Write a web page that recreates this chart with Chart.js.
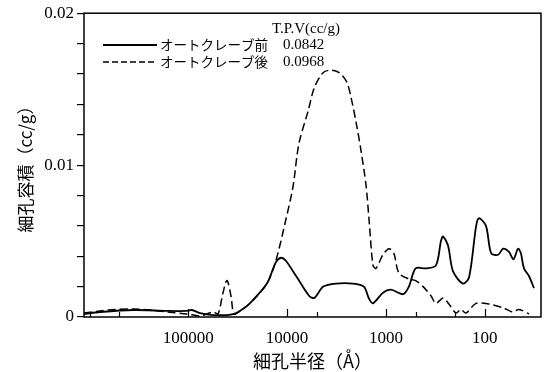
<!DOCTYPE html>
<html>
<head>
<meta charset="utf-8">
<script src="https://cdn.jsdelivr.net/npm/chart.js@4.4.1/dist/chart.umd.min.js"></script>
<style>
  html, body { margin: 0; padding: 0; background: #fff; }
  #wrap { width: 552px; height: 372px; }
</style>
</head>
<body>
<div id="wrap"><canvas id="myChart"></canvas></div>
<script>
// 細孔半径 (Å) / 細孔容積 (cc/g)
const beforeRadius = [1140000, 780000, 360000, 164000, 103000, 92000, 76000, 56000, 41000, 34500, 30000, 23700, 16000, 13000, 11500, 10300, 8100, 6000, 5300, 4300, 3200, 2150, 1670, 1480, 1350, 1070, 890, 670, 585, 500, 393, 311, 277, 264, 235, 209, 166, 144, 122, 114, 97, 86, 73, 65, 57, 51, 46, 43, 40, 35.6, 31.7];
const beforeVolume = [0.0002, 0.00033, 0.00046, 0.0004, 0.0004, 0.00046, 0.00026, 0.00013, 0.00013, 0.0002, 0.0004, 0.00092, 0.0022, 0.0036, 0.0039, 0.0037, 0.0027, 0.0014, 0.00125, 0.002, 0.0022, 0.0022, 0.002, 0.0012, 0.0009, 0.0016, 0.0018, 0.0015, 0.002, 0.0032, 0.0032, 0.0034, 0.005, 0.0053, 0.0047, 0.003, 0.0022, 0.0026, 0.006, 0.0065, 0.006, 0.0042, 0.0041, 0.0045, 0.0043, 0.0038, 0.0045, 0.0042, 0.0032, 0.0027, 0.0019];

const afterRadius = [1140000, 780000, 550000, 360000, 244000, 164000, 103000, 76000, 56000, 50000, 44500, 40600, 37000, 34500, 30000, 23700, 16000, 13000, 10300, 8700, 7600, 6100, 5300, 4300, 3600, 3000, 2500, 2260, 2000, 1790, 1590, 1480, 1350, 1260, 1070, 930, 830, 740, 585, 500, 420, 350, 311, 264, 230, 195, 174, 155, 122, 90, 65, 52, 45, 35.6];
const afterVolume = [0.00026, 0.0004, 0.0005, 0.00053, 0.00046, 0.00033, 0.0002, 0.00007, 0.00033, 0.0002, 0.0016, 0.0024, 0.0014, 0.0002, 0.0004, 0.0009, 0.0022, 0.0037, 0.0064, 0.0086, 0.0114, 0.0136, 0.0151, 0.0161, 0.01625, 0.0161, 0.0155, 0.0145, 0.0128, 0.011, 0.0087, 0.0064, 0.0034, 0.0032, 0.0041, 0.0045, 0.0042, 0.0029, 0.0025, 0.0024, 0.002, 0.0014, 0.0009, 0.00125, 0.00085, 0.00026, 0.0005, 0.00026, 0.0009, 0.00085, 0.0006, 0.00033, 0.0005, 0.0002];

const seriesNames = ['オートクレーブ前', 'オートクレーブ後'];
const tpvValues = ['0.0842', '0.0968'];
const tpvHeader = 'T.P.V(cc/g)';
const xTickLabels = [100000, 10000, 1000, 100];
const xMinorTicks = [1000000, 500000, 5000, 500, 200];
const yTickLabels = [0, 0.01, 0.02];

const serif = "'Liberation Serif', 'Noto Sans CJK JP', serif";
const jp = "'Noto Sans CJK JP', sans-serif";

function toPoints(xs, ys) {
  return xs.map((x, i) => ({ x: x, y: ys[i] }));
}

// frame, inward x ticks and the legend box
const framePlugin = {
  id: 'frame',
  afterDraw(chart) {
    const c = chart.ctx;
    const a = chart.chartArea;
    const xs = chart.scales.x;
    c.save();
    c.strokeStyle = '#000';
    c.lineWidth = 1.5;
    c.setLineDash([]);
    c.strokeRect(a.left, a.top, a.right - a.left, a.bottom - a.top);

    c.lineWidth = 1.2;
    xTickLabels.concat(xMinorTicks).forEach(v => {
      const px = Math.round(xs.getPixelForValue(v)) + 0.5;
      const len = xTickLabels.includes(v) ? 8 : 5;
      c.beginPath();
      c.moveTo(px, a.bottom);
      c.lineTo(px, a.bottom - len);
      c.stroke();
    });

    // legend
    c.fillStyle = '#000';
    c.textBaseline = 'middle';
    c.textAlign = 'left';
    c.font = '15px ' + serif;
    c.fillText(tpvHeader, 272, 29);
    const rows = [45, 62];
    chart.data.datasets.forEach((ds, i) => {
      c.lineWidth = ds.borderWidth;
      c.setLineDash(i === 0 ? [] : [6, 3]);
      c.beginPath();
      c.moveTo(103, rows[i]);
      c.lineTo(157, rows[i]);
      c.stroke();
      c.setLineDash([]);
      c.font = '13.5px ' + jp;
      c.fillText(ds.label, 160, rows[i]);
      c.font = '15px ' + serif;
      c.fillText(tpvValues[i], 283, rows[i]);
    });
    c.restore();
  }
};

const ctx = document.getElementById('myChart').getContext('2d');

var graphData = {
  type: 'line',
  data: {
    datasets: [{
      label: seriesNames[0],
      data: toPoints(beforeRadius, beforeVolume),
      borderColor: '#000',
      borderWidth: 1.8,
      pointRadius: 0,
      tension: 0.3,
      fill: false
    }, {
      label: seriesNames[1],
      data: toPoints(afterRadius, afterVolume),
      borderColor: '#000',
      borderWidth: 1.5,
      borderDash: [8, 4],
      pointRadius: 0,
      tension: 0.3,
      fill: false
    }]
  },
  options: {
    responsive: true,
    maintainAspectRatio: false,
    animation: false,
    layout: { padding: { top: 13, right: 11, left: 0, bottom: 0 } },
    plugins: { legend: { display: false }, tooltip: { enabled: false } },
    scales: {
      x: {
        type: 'logarithmic',
        reverse: true,
        min: 26.9,
        max: 1137000,
        afterBuildTicks: s => { s.ticks = xTickLabels.map(v => ({ value: v })); },
        afterFit: s => { s.height = 55; },
        grid: { display: false },
        border: { display: false },
        ticks: {
          color: '#000',
          font: { family: serif, size: 17 },
          padding: 3,
          maxRotation: 0,
          autoSkip: false,
          callback: v => String(v)
        },
        title: {
          display: true,
          text: '細孔半径（Å）',
          color: '#000',
          font: { family: jp, size: 18 },
          padding: { top: 7, bottom: 0 }
        }
      },
      y: {
        min: 0,
        max: 0.02,
        afterFit: s => { s.width = 84; },
        grid: { drawOnChartArea: false, color: '#000', tickLength: 7, lineWidth: 1.2 },
        border: { display: false },
        ticks: {
          stepSize: 0.002,
          autoSkip: false,
          color: '#000',
          font: { family: serif, size: 17 },
          padding: 3,
          callback: v => {
            const t = yTickLabels.find(t => Math.abs(t - v) < 1e-9);
            return t === undefined ? '' : String(t);
          }
        },
        title: {
          display: true,
          text: '細孔容積（cc/g）',
          color: '#000',
          font: { family: jp, size: 17 },
          padding: { top: 15, bottom: 0 }
        }
      }
    }
  },
  plugins: [framePlugin]
};

var myChart = new Chart(ctx, graphData);
</script>
</body>
</html>
